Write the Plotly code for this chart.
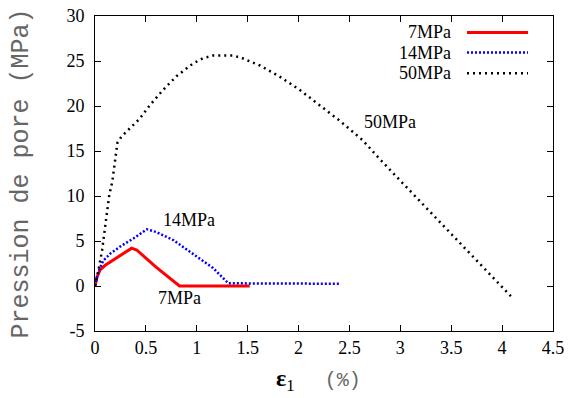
import plotly.graph_objects as go

# 7MPa
x7 = [0, 0.02, 0.05, 0.10, 0.18, 0.27, 0.36, 0.41, 0.60, 0.83, 1.52]
y7 = [0, 1.0, 1.8, 2.3, 2.9, 3.6, 4.2, 4.0, 2.1, 0.0, 0.0]
# 14MPa
x14 = [0, 0.03, 0.08, 0.15, 0.25, 0.38, 0.51, 0.60, 0.77, 0.96, 1.16, 1.31, 2.40]
y14 = [0, 1.5, 2.8, 3.6, 4.4, 5.3, 6.3, 6.0, 5.1, 3.6, 2.0, 0.3, 0.25]
# 50MPa
x50 = [0, 0.03, 0.07, 0.10, 0.14, 0.17, 0.19, 0.22, 0.26, 0.34, 0.44, 0.54, 0.67,
       0.80, 0.96, 1.06, 1.16, 1.36, 1.45, 1.62, 1.81, 2.01, 2.21, 2.40, 2.63, 2.79,
       3.00, 3.50, 4.10]
y50 = [0, 1.5, 4.0, 6.5, 10.1, 11.6, 13.6, 15.9, 16.6, 17.5, 18.6, 20.1, 21.8,
       23.3, 24.7, 25.3, 25.6, 25.6, 25.3, 24.5, 23.3, 21.8, 20.1, 18.4, 16.2, 14.2,
       11.7, 5.8, -1.3]

series_names = ["7MPa", "14MPa", "50MPa"]
xticks = [0, 0.5, 1, 1.5, 2, 2.5, 3, 3.5, 4, 4.5]
yticks = [-5, 0, 5, 10, 15, 20, 25, 30]

styles = [
    dict(color="#ff0000", width=3, dash="solid"),
    dict(color="#0000ff", width=2.5, dash="2px,2px"),
    dict(color="#000000", width=2.5, dash="2px,4px"),
]

fig = go.Figure()
for xs, ys, name, st in zip([x7, x14, x50], [y7, y14, y50], series_names, styles):
    fig.add_trace(go.Scatter(x=xs, y=ys, mode="lines", name=name, line=st,
                             showlegend=False))

serif = "Liberation Serif"
mono = "Liberation Mono"

# curve labels
fig.add_annotation(x=0.83, y=-1.3, text="7MPa", showarrow=False,
                   font=dict(family=serif, size=18, color="black"))
fig.add_annotation(x=0.92, y=7.3, text="14MPa", showarrow=False,
                   font=dict(family=serif, size=18, color="black"))
fig.add_annotation(x=2.90, y=18.2, text="50MPa", showarrow=False,
                   font=dict(family=serif, size=18, color="black"))

# gnuplot-style legend (text right-aligned, sample on the right)
leg_y = [0.948, 0.884, 0.818]
for name, st, yy in zip(series_names, styles, leg_y):
    fig.add_annotation(xref="paper", yref="paper", x=(453 - 95) / 458, y=yy,
                       xanchor="right", yanchor="middle", text=name,
                       showarrow=False,
                       font=dict(family=serif, size=18, color="black"))
    fig.add_shape(type="line", xref="paper", yref="paper",
                  x0=(467 - 95) / 458, x1=(528 - 95) / 458, y0=yy, y1=yy,
                  line=st)

# x-axis title
fig.add_annotation(xref="paper", yref="paper", x=0.487, y=-0.156,
                   xanchor="center", yanchor="middle",
                   text="<b>ε</b><sub>1</sub>&nbsp;&nbsp;&nbsp;&nbsp;&nbsp;<span style='font-family:Liberation Mono;font-size:20px;color:#666'>(%)</span>",
                   showarrow=False,
                   font=dict(family=serif, size=24, color="black"))

axis_common = dict(showline=True, linecolor="black", linewidth=1, mirror="ticks",
                   ticks="inside", ticklen=6, tickcolor="black", showgrid=False,
                   zeroline=False, automargin=False,
                   tickfont=dict(family=serif, size=18, color="black"))

fig.update_xaxes(range=[0, 4.5], tickvals=xticks,
                 ticktext=[("%g" % v) for v in xticks], **axis_common)
fig.update_yaxes(range=[-5, 30], tickvals=yticks,
                 ticktext=[("%g" % v) for v in yticks],
                 ticklabelstandoff=6,
                 title=dict(text="Pression de pore (MPa)",
                            font=dict(family=mono, size=25, color="#666"),
                            standoff=30),
                 **axis_common)

fig.update_layout(width=570, height=398, margin=dict(l=95, r=17, t=16, b=67),
                  font=dict(family=serif, size=18, color="black"),
                  plot_bgcolor="white", paper_bgcolor="white", showlegend=False)

fig.write_html("out.html", config={"displayModeBar": False},
               post_script="document.body.style.margin='0';document.body.style.padding='0';")
